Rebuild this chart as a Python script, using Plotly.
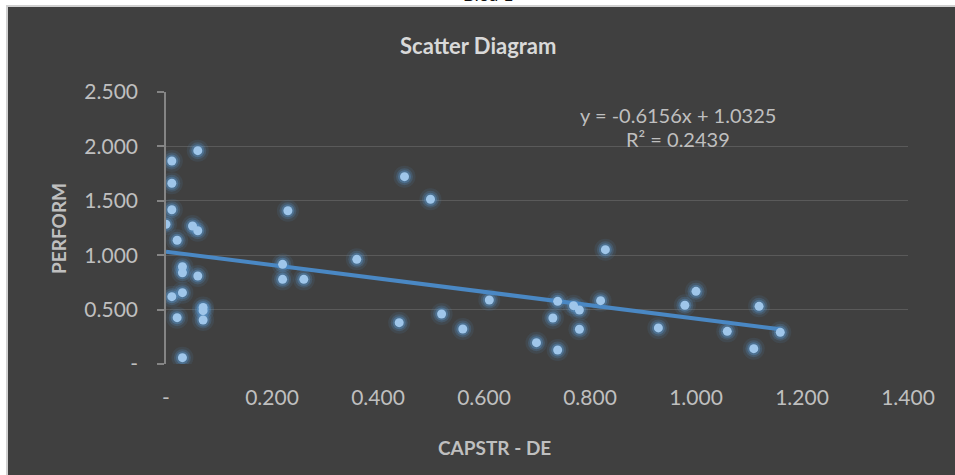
import plotly.graph_objects as go

# CAPSTR - DE (x) and PERFORM (y) observations
capstr_de = [0.011, 0.060, 0.011, 0.011, 0.000, 0.050, 0.060, 0.021, 0.230, 0.031,
             0.031, 0.060, 0.220, 0.220, 0.260, 0.031, 0.011, 0.070, 0.070, 0.070,
             0.021, 0.031, 0.450, 0.499, 0.360, 0.610, 0.440, 0.520, 0.560, 0.739,
             0.730, 0.769, 0.780, 0.780, 0.699, 0.739, 0.820, 0.829, 0.929, 0.979,
             1.000, 1.059, 1.109, 1.119, 1.159]
perform = [1.866, 1.961, 1.661, 1.418, 1.284, 1.268, 1.225, 1.137, 1.409, 0.894,
           0.839, 0.809, 0.916, 0.778, 0.778, 0.656, 0.619, 0.520, 0.490, 0.404,
           0.426, 0.058, 1.722, 1.514, 0.962, 0.588, 0.380, 0.460, 0.322, 0.576,
           0.423, 0.536, 0.496, 0.319, 0.196, 0.129, 0.582, 1.051, 0.332, 0.540,
           0.668, 0.300, 0.141, 0.530, 0.291]

# Linear trendline coefficients
slope = -0.6156
intercept = 1.0325
r_squared = 0.2439

x_tick_vals = [0, 0.2, 0.4, 0.6, 0.8, 1.0, 1.2, 1.4]
x_tick_text = ["-", "0.200", "0.400", "0.600", "0.800", "1.000", "1.200", "1.400"]
y_tick_vals = [0, 0.5, 1.0, 1.5, 2.0, 2.5]
y_tick_text = ["-", "0.500", "1.000", "1.500", "2.000", "2.500"]

FONT = "Lato"
BG = "#404040"
TICK_COLOR = "#bfbfbf"

# Plot area geometry (pixels)
W, H = 955, 475
L, R, T, B = 166, 47, 92, 111
pw, ph = W - L - R, H - T - B


def px_to_paper_x(px):
    return (px - L) / pw


def px_to_paper_y(py):
    return (H - B - py) / ph


fig = go.Figure()

# soft glow under the markers
for size, alpha in [(22, 0.10), (17, 0.20), (13, 0.35)]:
    fig.add_trace(go.Scatter(
        x=capstr_de, y=perform, mode="markers",
        marker=dict(size=size, color=f"rgba(91,155,213,{alpha})", line=dict(width=0)),
        hoverinfo="skip", showlegend=False))

x_min, x_max = min(capstr_de), max(capstr_de)
fig.add_trace(go.Scatter(
    x=[x_min, x_max], y=[slope * x_min + intercept, slope * x_max + intercept],
    mode="lines", line=dict(color="#4a88c4", width=4), showlegend=False,
    hoverinfo="skip"))

fig.add_trace(go.Scatter(
    x=capstr_de, y=perform, mode="markers",
    marker=dict(size=9, color="#9fc6ea", line=dict(width=0)),
    showlegend=False))

# chart area background with a light border
fig.add_shape(type="rect", xref="paper", yref="paper", layer="below",
              x0=px_to_paper_x(7), x1=px_to_paper_x(W + 5),
              y0=px_to_paper_y(H + 5), y1=px_to_paper_y(6),
              fillcolor=BG, line=dict(color="#d0d0d0", width=2))

annotations = [
    dict(text="<b>Scatter Diagram</b>", x=px_to_paper_x(478), y=px_to_paper_y(46),
         font=dict(family=FONT, size=22, color="#d9d9d9")),
    dict(text="<b>PERFORM</b>", x=px_to_paper_x(58), y=px_to_paper_y(228), textangle=-90,
         font=dict(family=FONT, size=19, color="#bfbfbf")),
    dict(text="<b>CAPSTR - DE</b>", x=px_to_paper_x(494), y=px_to_paper_y(447),
         font=dict(family=FONT, size=19, color="#bfbfbf")),
    dict(text=f"y = {slope:.4f}x + {intercept:.4f}", x=px_to_paper_x(678), y=px_to_paper_y(115),
         font=dict(family=FONT, size=20, color=TICK_COLOR)),
    dict(text=f"R² = {r_squared:.4f}", x=px_to_paper_x(678), y=px_to_paper_y(139),
         font=dict(family=FONT, size=20, color=TICK_COLOR)),
    dict(text="Biểu 1", x=px_to_paper_x(488), y=px_to_paper_y(-6),
         font=dict(family=FONT, size=18, color="#111111")),
]
for a in annotations:
    a.update(xref="paper", yref="paper", showarrow=False, xanchor="center", yanchor="middle")

fig.update_layout(
    width=W, height=H,
    margin=dict(l=L, r=R, t=T, b=B, pad=0),
    paper_bgcolor="white",
    plot_bgcolor=BG,
    annotations=annotations,
    font=dict(family=FONT, color=TICK_COLOR),
)

fig.update_xaxes(
    range=[0, 1.4], tickvals=x_tick_vals, ticktext=x_tick_text,
    showgrid=False, zeroline=False, showline=False, ticks="",
    tickfont=dict(family=FONT, size=21, color=TICK_COLOR),
    ticklabelstandoff=19,
)
fig.update_yaxes(
    range=[0, 2.5], tickvals=y_tick_vals, ticktext=y_tick_text,
    showgrid=True, gridcolor="#5a5a5a", gridwidth=1.2,
    zeroline=False, showline=True, linecolor="#858585", linewidth=1.5,
    ticks="outside", ticklen=7, tickcolor="#858585", tickwidth=1.5,
    tickfont=dict(family=FONT, size=21, color=TICK_COLOR),
    ticklabelstandoff=15,
)

fig.write_html("out.html")
